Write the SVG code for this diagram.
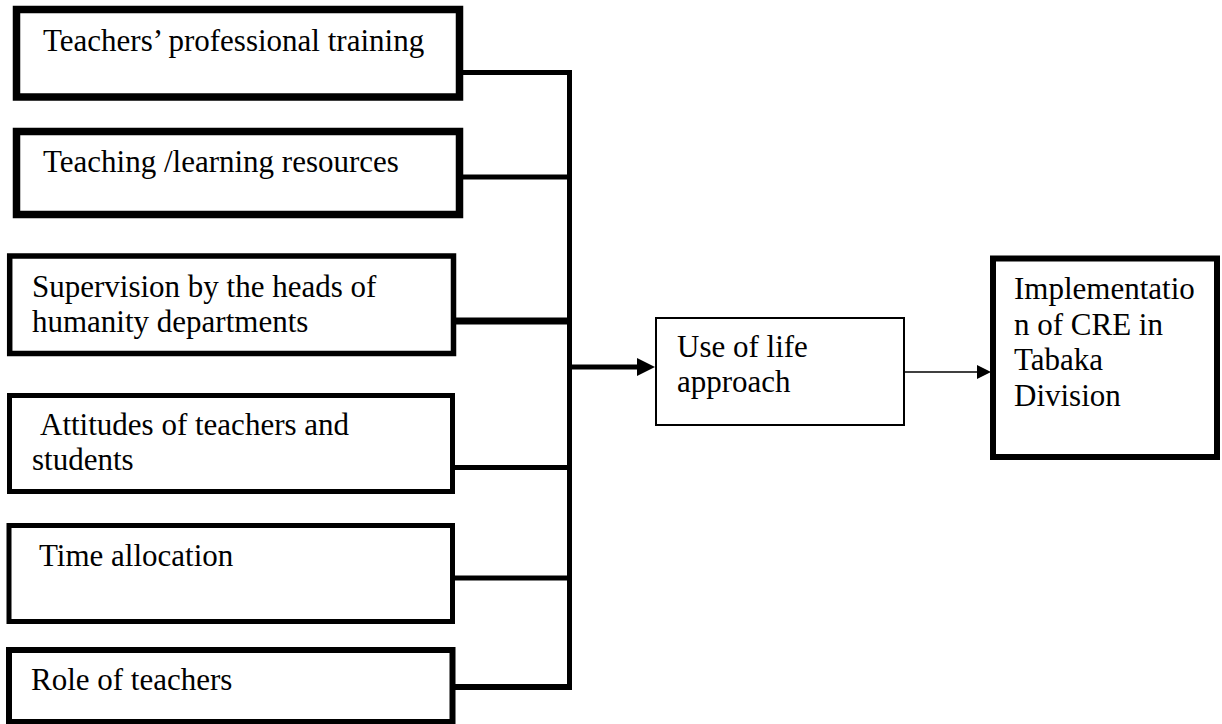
<svg xmlns="http://www.w3.org/2000/svg" width="1222" height="724" viewBox="0 0 1222 724">
<style>
  .box { fill: #ffffff; stroke: #000000; }
  .t { font-family: "Liberation Serif", "Times New Roman", serif; font-size: 31px; fill: #000000; }
  .c { stroke: #000000; fill: none; stroke-linecap: butt; }
</style>
<rect x="0" y="0" width="1222" height="724" fill="#ffffff"/>
<g id="connectors">
  <line class="c" x1="569.5" y1="70" x2="569.5" y2="690" stroke-width="5"/>
  <line class="c" x1="453" y1="72.5" x2="572" y2="72.5" stroke-width="5"/>
  <line class="c" x1="453" y1="177" x2="572" y2="177" stroke-width="5"/>
  <line class="c" x1="456" y1="321" x2="572" y2="321" stroke-width="7"/>
  <line class="c" x1="455" y1="467.5" x2="572" y2="467.5" stroke-width="5"/>
  <line class="c" x1="455" y1="578" x2="572" y2="578" stroke-width="5"/>
  <line class="c" x1="455" y1="687" x2="572" y2="687" stroke-width="6"/>
  <line class="c" x1="569" y1="367" x2="640" y2="367" stroke-width="5"/>
  <polygon points="637,358 655,367 637,376" fill="#000000"/>
  <line class="c" x1="904" y1="372" x2="979" y2="372" stroke-width="1.5"/>
  <polygon points="977,365 991,372 977,379" fill="#000000"/>
</g>
<g id="node1">
  <rect class="box" x="16.5" y="9.5" width="443" height="87.5" stroke-width="7.5"/>
  <text class="t" x="43" y="51">Teachers’ professional training</text>
</g>
<g id="node2">
  <rect class="box" x="16.5" y="131.5" width="443" height="83" stroke-width="7.5"/>
  <text class="t" x="43" y="172">Teaching /learning resources</text>
</g>
<g id="node3">
  <rect class="box" x="9.7" y="256" width="443.8" height="97.5" stroke-width="5.5"/>
  <text class="t" x="32" y="297">Supervision by the heads of</text>
  <text class="t" x="32" y="332">humanity departments</text>
</g>
<g id="node4">
  <rect class="box" x="9.5" y="395.5" width="443" height="96" stroke-width="5"/>
  <text class="t" x="40" y="435">Attitudes of teachers and</text>
  <text class="t" x="32" y="470">students</text>
</g>
<g id="node5">
  <rect class="box" x="9" y="525.5" width="443.5" height="96" stroke-width="5"/>
  <text class="t" x="39" y="566">Time allocation</text>
</g>
<g id="node6">
  <rect class="box" x="9" y="650" width="443.5" height="72" stroke-width="6"/>
  <text class="t" x="31" y="690">Role of teachers</text>
</g>
<g id="node7">
  <rect class="box" x="656" y="318" width="248" height="107" stroke-width="2"/>
  <text class="t" x="677" y="357">Use of life</text>
  <text class="t" x="677" y="392">approach</text>
</g>
<g id="node8">
  <rect class="box" x="993" y="258.5" width="224" height="198.5" stroke-width="6"/>
  <text class="t" x="1014" y="299">Implementatio</text>
  <text class="t" x="1014" y="335">n of CRE in</text>
  <text class="t" x="1014" y="370">Tabaka</text>
  <text class="t" x="1014" y="406">Division</text>
</g>
</svg>
